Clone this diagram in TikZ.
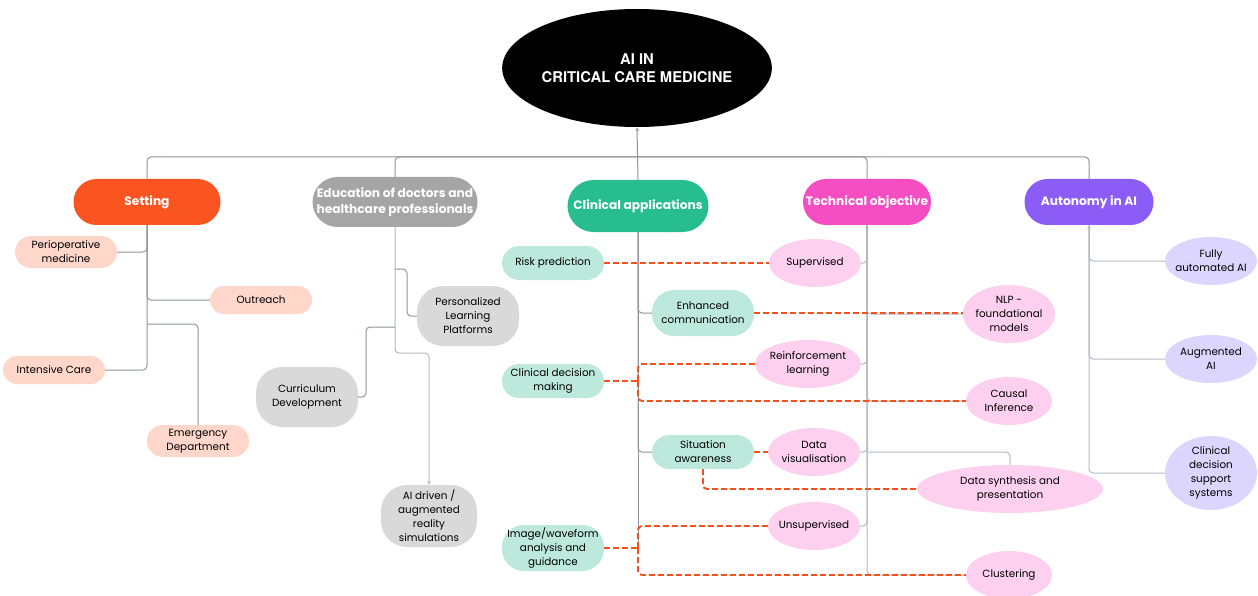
\documentclass[tikz,border=0pt]{standalone}
\usepackage{fontspec}
\setmainfont{Poppins}
\newfontfamily\titlefont{TeX Gyre Heros}
\usetikzlibrary{shapes.geometric,arrows.meta}
\definecolor{cSet}{HTML}{FA5521}
\definecolor{cSetL}{HTML}{FED6CA}
\definecolor{cEdu}{HTML}{A5A5A5}
\definecolor{cEduL}{HTML}{D9D9D9}
\definecolor{cCli}{HTML}{27BD8F}
\definecolor{cCliL}{HTML}{BDE9DC}
\definecolor{cTec}{HTML}{F54EC3}
\definecolor{cTecL}{HTML}{FDD0EF}
\definecolor{cAut}{HTML}{8B5CF6}
\definecolor{cAutL}{HTML}{DCD5FD}
\definecolor{lnA}{HTML}{8E959C}
\definecolor{lnB}{HTML}{B0BAC4}
\definecolor{dsh}{HTML}{F4511E}
\tikzset{
  pill/.style n args={3}{rectangle, minimum width=#1, minimum height=#2, rounded corners=#3, inner sep=1pt, align=center, font=\fontsize{10.4}{14}\selectfont, text=black},
  cat/.style={text=white, font=\fontsize{12.2}{16}\bfseries\selectfont},
  oval/.style n args={2}{ellipse, minimum width=#1, minimum height=#2, inner xsep=-14pt, inner ysep=-6pt, align=center, font=\fontsize{10.4}{14}\selectfont, text=black, fill=cTecL},
  lineA/.style={draw=lnA, line width=1pt, rounded corners=4pt},
  lineB/.style={draw=lnB, line width=1pt, rounded corners=4pt},
  arr/.style={-{Stealth[length=4pt,width=3.5pt]}},
  dline/.style={draw=dsh, line width=1.9pt, dash pattern=on 6pt off 3pt, rounded corners=4pt},
}
\begin{document}
\begin{tikzpicture}[x=1pt,y=-1pt]
\useasboundingbox[fill=white] (0,0) rectangle (1258,596);

% title
\node[ellipse, fill=black, minimum width=262, minimum height=118, inner sep=0pt, align=center, text=white, font=\titlefont\fontsize{14.8}{18}\bfseries\selectfont] (root) at (637,68) {AI IN\\CRITICAL CARE MEDICINE};

% categories
\node[pill={147}{46}{23}, cat, fill=cSet] (set) at (147,202) {Setting};
\node[pill={165}{50}{25}, cat, fill=cEdu] (edu) at (395,202) {Education of doctors and\\healthcare professionals};
\node[pill={141}{52}{26}, cat, fill=cCli] (cli) at (638,206) {Clinical applications};
\node[pill={128}{46}{23}, cat, fill=cTec] (tec) at (867,202) {Technical objective};
\node[pill={129}{46}{23}, cat, fill=cAut] (aut) at (1089,202) {Autonomy in AI};

% setting children
\node[pill={102}{32}{16}, fill=cSetL] (peri) at (66,252) {Perioperative\\medicine};
\node[pill={102}{28}{14}, fill=cSetL] (out) at (261,300) {Outreach};
\node[pill={102}{28}{14}, fill=cSetL] (ic) at (54,370) {Intensive Care};
\node[pill={102}{32}{16}, fill=cSetL] (emer) at (198,441) {Emergency\\Department};

% education children
\node[pill={102}{60}{26}, fill=cEduL] (pers) at (468,316) {Personalized\\Learning\\Platforms};
\node[pill={102}{60}{26}, fill=cEduL] (cur) at (307,397) {Curriculum\\Development};
\node[pill={96}{62}{26}, fill=cEduL] (aidr) at (429,516) {AI driven /\\augmented\\reality\\simulations};

% clinical children
\node[pill={102}{34}{17}, fill=cCliL] (risk) at (553,263) {Risk prediction};
\node[pill={102}{46}{22}, fill=cCliL] (enh) at (703,313) {Enhanced\\communication};
\node[pill={102}{34}{17}, fill=cCliL] (cdm) at (553,381) {Clinical decision\\making};
\node[pill={102}{34}{17}, fill=cCliL] (sa) at (703,452) {Situation\\awareness};
\node[pill={102}{46}{22}, fill=cCliL] (img) at (553,548) {Image/waveform\\analysis and\\guidance};

% technical children
\node[oval={92}{48}] (sup) at (815,263) {Supervised};
\node[oval={92}{58}] (nlp) at (1009,314) {NLP -\\foundational\\models};
\node[oval={106}{48}] (rl) at (808,364) {Reinforcement\\learning};
\node[oval={86}{48}] (ci) at (1009,401) {Causal\\Inference};
\node[oval={92}{48}] (dv) at (814,452) {Data\\visualisation};
\node[oval={186}{48}] (ds) at (1010,489) {Data synthesis and\\presentation};
\node[oval={92}{48}] (uns) at (814,526) {Unsupervised};
\node[oval={86}{48}] (clu) at (1009,575) {Clustering};

% autonomy children
\node[oval={92}{48}, fill=cAutL] (fa) at (1211,261) {Fully\\automated AI};
\node[oval={92}{48}, fill=cAutL] (aug) at (1211,359) {Augmented\\AI};
\node[oval={92}{74}, fill=cAutL] (cdss) at (1211,473) {Clinical\\decision\\support\\systems};

% bus
\coordinate (hub) at (637,157);
\draw[lineA] (set.north) |- (hub);
\draw[lineA] (edu.north) |- (hub);
\draw[lineA] (tec.north) |- (hub);
\draw[lineA] (aut.north) |- (hub);
\draw[lineA, arr] (cli.north) -- (root.south);

% setting connectors
\draw[lineA] (set.south) |- (ic.east);
\draw[lineA] (set.south) |- (peri.east);
\draw[lineA] (set.south) |- (out.west);
\coordinate (emk) at (147,324);
\draw[lineA] (emk) -| (emer.north);

% education connectors
\coordinate (edk) at (395,353);
\draw[lineB, arr] (edu.south) |- (edk) -| (aidr.north);
\coordinate (pk1) at (395,269);
\coordinate (pk2) at (407,269);
\draw[lineA] (pk1) -- (pk2) |- (pers.west);
\coordinate (ck1) at (395,327);
\coordinate (ck2) at (366,327);
\draw[lineA] (ck1) -- (ck2) |- (cur.east);

% clinical connectors
\coordinate (clb) at (638,548);
\draw[lineA] (cli.south) -- (clb);
\draw[lineA] (cli.south) |- (enh.west);
\draw[lineA] (cli.south) |- (sa.west);

% technical connectors
\draw[lineB, arr] (clu.west) -| (tec.south);
\draw[lineB] (sup.east) -| (tec.south);
\draw[lineB] (rl.east) -| (tec.south);
\draw[lineB] (dv.east) -| (tec.south);
\draw[lineB] (uns.east) -| (tec.south);
\draw[lineB] (nlp.west) -| (tec.south);
\draw[lineB] (ci.west) -| (tec.south);
\coordinate (dsk) at (867,452);
\draw[lineB] (dsk) -| (ds.north);

% autonomy connectors
\draw[lineB, arr] (cdss.west) -| (aut.south);
\draw[lineB] (fa.west) -| (aut.south);
\draw[lineB] (aug.west) -| (aut.south);

% dashed links
\draw[dline] (risk.east) -- (sup.west);
\draw[dline] (enh.east) -- (enh.east -| nlp.west);
\coordinate (j1) at (638,381);
\draw[dline] (cdm.east) -- (j1);
\draw[dline] (j1) |- (rl.west);
\draw[dline] (j1) |- (ci.west);
\draw[dline] (sa.east) -- (dv.west);
\draw[dline] (sa.south) |- (ds.west);
\coordinate (j2) at (638,548);
\draw[dline] (img.east) -- (j2);
\draw[dline] (j2) |- (uns.west);
\draw[dline] (j2) |- (clu.west);
\end{tikzpicture}
\end{document}
